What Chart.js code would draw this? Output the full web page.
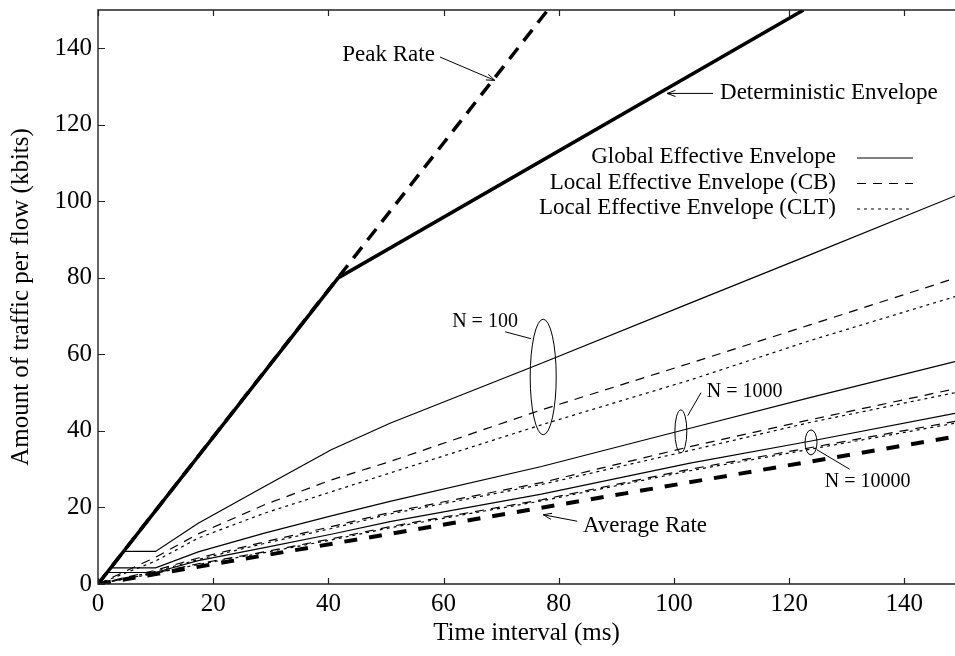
<!DOCTYPE html>
<html>
<head>
<meta charset="utf-8">
<script src="https://cdn.jsdelivr.net/npm/chart.js@4.4.1/dist/chart.umd.min.js"></script>
<style>
    html, body { margin: 0; padding: 0; background: #fff; }
    #wrap { width: 955px; height: 656px; }
</style>
</head>
<body>
<div id="wrap"><canvas id="envelope-chart" width="955" height="656"></canvas></div>
<script>
// tick labels
const xTicks = [0, 20, 40, 60, 80, 100, 120, 140];
const yTicks = [0, 20, 40, 60, 80, 100, 120, 140];

// straight reference lines (time ms, kbits)
const peakT = [0, 78.1];
const peakA = [0, 150];
const detT = [0, 41.7, 122.5];
const detA = [0, 80, 150];
const avgT = [0, 148.8];
const avgA = [0, 38.5];

// effective envelopes, read at these time intervals (ms)
const tAxis = [0, 10, 17.4, 28.9, 40.5, 50.7, 77, 102.8, 123.6, 148.8];
const n100Global = [0, 8.5, 15.9, 25.5, 35.1, 42.0, 57.7, 73.4, 86.0, 101.4];
const n100CB = [0, 7.0, 13.1, 20.7, 27.2, 32.0, 45.5, 57.7, 67.7, 79.9];
const n100CLT = [0, 6.0, 12.0, 18.5, 24.1, 29.0, 41.6, 53.3, 63.6, 75.1];
const n1000Global = [0, 4.2, 8.4, 13.3, 17.8, 21.6, 30.7, 40.7, 48.7, 58.1];
const n1000CB = [0, 3.6, 6.8, 11.0, 15.0, 18.7, 26.5, 35.9, 42.9, 51.0];
const n1000CLT = [0, 3.3, 6.4, 10.6, 14.5, 18.3, 26.0, 34.9, 42.2, 50.0];
const n10000Global = [0, 3.0, 6.1, 9.5, 13.0, 16.3, 23.5, 31.6, 37.3, 44.6];
const n10000CB = [0, 2.9, 5.3, 8.4, 11.8, 15.0, 22.0, 30.0, 35.6, 42.5];
const n10000CLT = [0, 2.8, 5.1, 8.2, 11.5, 14.7, 21.7, 29.6, 35.2, 42.0];
// where the flat start of each global envelope begins (ms), N = 100, 1000, 10000
const plateauStart = [4.4, 2.2, 1.6];

const legendLabels = ['Global Effective Envelope', 'Local Effective Envelope (CB)', 'Local Effective Envelope (CLT)'];

const serif = '"Liberation Serif", "Times New Roman", serif';
const ink = '#000';

const pts = (ts, vs) => ts.map((t, i) => ({ x: t, y: vs[i] }));
const globalPts = (vs, start) => {
    const p = pts(tAxis, vs);
    p.splice(1, 0, { x: start, y: vs[1] });
    return p;
};

const solid = [];
const cbDash = [9, 7];
const cltDash = [3, 4];

const thin = (data, dash) => ({
    data: data,
    borderColor: ink,
    borderWidth: 1.2,
    borderDash: dash,
    pointRadius: 0,
    tension: 0,
    fill: false,
});

const datasets = [
    thin(globalPts(n100Global, plateauStart[0]), solid),
    thin(pts(tAxis, n100CB), cbDash),
    thin(pts(tAxis, n100CLT), cltDash),
    thin(globalPts(n1000Global, plateauStart[1]), solid),
    thin(pts(tAxis, n1000CB), cbDash),
    thin(pts(tAxis, n1000CLT), cltDash),
    thin(globalPts(n10000Global, plateauStart[2]), solid),
    thin(pts(tAxis, n10000CB), cbDash),
    thin(pts(tAxis, n10000CLT), cltDash),
    { data: pts(avgT, avgA), borderColor: ink, borderWidth: 4, borderDash: [13, 12], pointRadius: 0 },
    { data: pts(peakT, peakA), borderColor: ink, borderWidth: 3.5, borderDash: [14, 9], pointRadius: 0 },
    { data: pts(detT, detA), borderColor: ink, borderWidth: 3.5, pointRadius: 0 },
];

// notes placed in data coordinates
const notes = [
    { text: 'Peak Rate', size: 23, at: [58.5, 138.2], align: 'right', line: [[59.4, 137.7], [68.9, 131.6]], arrow: true },
    { text: 'Deterministic Envelope', size: 23, at: [108.0, 128.2], align: 'left', line: [[106.8, 128.2], [98.8, 128.2]], arrow: true },
    { text: 'Average Rate', size: 23, at: [84.2, 15.1], align: 'left', line: [[83.2, 16.4], [77.3, 18.1]], arrow: true },
    { text: 'N = 100', size: 20, at: [67.2, 68.5], align: 'center', line: [[70.7, 65.9], [75.2, 64.1]], ellipse: [77.3, 54.1, 2.26, 15.1] },
    { text: 'N = 1000', size: 20, at: [105.7, 50.2], align: 'left', line: [[104.7, 50.0], [102.4, 44.0]], ellipse: [101.2, 39.9, 1.04, 5.6] },
    { text: 'N = 10000', size: 20, at: [126.2, 26.7], align: 'left', line: [[124.8, 35.1], [130.5, 30.0]], ellipse: [123.8, 37.0, 1.04, 3.26] },
];

const framePlugin = {
    id: 'frame',
    afterDatasetsDraw(chart) {
        const { ctx, chartArea: a, scales: { x, y } } = chart;
        ctx.save();
        ctx.strokeStyle = '#222';
        ctx.lineWidth = 1.4;
        ctx.beginPath();
        ctx.moveTo(a.right + 2, a.top);
        ctx.lineTo(a.left, a.top);
        ctx.lineTo(a.left, a.bottom);
        ctx.lineTo(a.right + 2, a.bottom);
        ctx.stroke();
        ctx.lineWidth = 1.2;
        ctx.beginPath();
        xTicks.forEach(v => {
            const px = Math.round(x.getPixelForValue(v)) + 0.5;
            ctx.moveTo(px, a.bottom); ctx.lineTo(px, a.bottom - 6);
            ctx.moveTo(px, a.top); ctx.lineTo(px, a.top + 6);
        });
        yTicks.forEach(v => {
            const py = Math.round(y.getPixelForValue(v)) + 0.5;
            ctx.moveTo(a.left, py); ctx.lineTo(a.left + 7, py);
        });
        ctx.stroke();

        // notes
        ctx.fillStyle = ink;
        ctx.strokeStyle = ink;
        ctx.lineWidth = 1;
        ctx.textBaseline = 'middle';
        notes.forEach(n => {
            ctx.font = n.size + 'px ' + serif;
            ctx.textAlign = n.align;
            ctx.fillText(n.text, x.getPixelForValue(n.at[0]), y.getPixelForValue(n.at[1]));
            const [p0, p1] = n.line;
            const x0 = x.getPixelForValue(p0[0]), y0 = y.getPixelForValue(p0[1]);
            const x1 = x.getPixelForValue(p1[0]), y1 = y.getPixelForValue(p1[1]);
            ctx.beginPath();
            ctx.moveTo(x0, y0); ctx.lineTo(x1, y1);
            if (n.arrow) {
                const ang = Math.atan2(y1 - y0, x1 - x0);
                [0.35, -0.35].forEach(d => {
                    ctx.moveTo(x1, y1);
                    ctx.lineTo(x1 - 9 * Math.cos(ang + d), y1 - 9 * Math.sin(ang + d));
                });
            }
            ctx.stroke();
            if (n.ellipse) {
                const [ex, ey, rx, ry] = n.ellipse;
                const cx = x.getPixelForValue(ex), cy = y.getPixelForValue(ey);
                const rpx = x.getPixelForValue(ex + rx) - cx;
                const rpy = cy - y.getPixelForValue(ey + ry);
                ctx.beginPath();
                ctx.ellipse(cx, cy, rpx, rpy, 0, 0, Math.PI * 2);
                ctx.stroke();
            }
        });

        // legend
        const styles = [solid, cbDash, cltDash];
        ctx.font = '23px ' + serif;
        ctx.textAlign = 'right';
        legendLabels.forEach((label, i) => {
            const ly = 157 + i * 25.5;
            ctx.fillText(label, 836, ly);
            ctx.beginPath();
            ctx.setLineDash(styles[i]);
            ctx.lineWidth = 1.2;
            ctx.moveTo(857, ly + 1); ctx.lineTo(913, ly + 1);
            ctx.stroke();
        });
        ctx.restore();
    }
};

const tickFont = { family: serif, size: 25 };
const titleFont = { family: serif, size: 25 };

new Chart(document.getElementById('envelope-chart'), {
    type: 'line',
    data: { datasets },
    options: {
        responsive: false,
        animation: false,
        devicePixelRatio: 1,
        layout: { padding: { top: 10, right: 0, left: 0, bottom: 0 } },
        plugins: { legend: { display: false }, tooltip: { enabled: false } },
        elements: { line: { borderCapStyle: 'butt' } },
        scales: {
            x: {
                type: 'linear',
                min: 0,
                max: 148.8,
                afterBuildTicks: s => { s.ticks = xTicks.map(v => ({ value: v })); },
                afterFit: s => { s.height = 72; s.paddingLeft = 0; s.paddingRight = 0; },
                grid: { display: false, drawTicks: false },
                border: { display: false },
                ticks: { font: tickFont, color: ink, padding: 5, maxRotation: 0, autoSkip: false },
                title: { display: true, text: 'Time interval (ms)', font: titleFont, color: ink, padding: { top: 0, bottom: 8 } },
            },
            y: {
                type: 'linear',
                min: 0,
                max: 150,
                afterBuildTicks: s => { s.ticks = yTicks.map(v => ({ value: v })); },
                afterFit: s => { s.width = 98; s.paddingTop = 0; s.paddingBottom = 0; },
                grid: { display: false, drawTicks: false },
                border: { display: false },
                ticks: { font: tickFont, color: ink, padding: 6, autoSkip: false },
                title: { display: true, text: 'Amount of traffic per flow (kbits)', font: titleFont, color: ink, padding: { top: 6, bottom: 0 } },
            },
        },
    },
    plugins: [framePlugin],
});
</script>
</body>
</html>
